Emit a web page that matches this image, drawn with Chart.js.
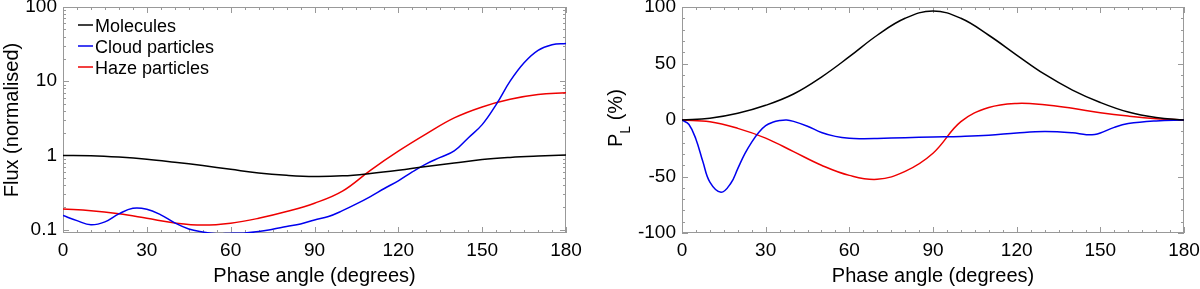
<!DOCTYPE html>
<html>
<head>
<meta charset="utf-8">
<script src="https://cdn.jsdelivr.net/npm/chart.js@4"></script>
<style>
html, body { margin: 0; padding: 0; background: #fff; }
#contenedor { display: flex; width: 1200px; height: 289px; }
canvas { display: block; }
</style>
</head>
<body>
<div id="contenedor">
  <canvas id="graficoFlujo" width="600" height="289"></canvas>
  <canvas id="graficoPolarizacion" width="600" height="289"></canvas>
</div>
<script>
// Datos
const angulos10 = [0, 10, 20, 30, 40, 50, 60, 70, 80, 90, 100, 110, 120, 130, 140, 150, 160, 170, 180];
const angulos5 = [0, 5, 10, 15, 20, 25, 30, 35, 40, 45, 50, 55, 60, 65, 70, 75, 80, 85, 90,
                  95, 100, 105, 110, 115, 120, 125, 130, 135, 140, 145, 150, 155, 160, 165, 170, 175, 180];

// Flujo (normalizado)
const flujoMoleculas = [1.0, 0.99, 0.95, 0.89, 0.81, 0.73, 0.65, 0.58, 0.54, 0.52, 0.53, 0.57, 0.63, 0.71, 0.79, 0.88, 0.94, 0.98, 1.01];
const flujoNubes = [0.155, 0.132, 0.116, 0.127, 0.163, 0.194, 0.188, 0.158, 0.123, 0.102, 0.093, 0.088, 0.089, 0.09, 0.094, 0.101,
                    0.11, 0.119, 0.135, 0.15, 0.18, 0.222, 0.279, 0.358, 0.455, 0.6, 0.77, 0.94, 1.15, 1.72, 2.6, 4.84,
                    10, 17.7, 26, 31, 32.3];
const flujoBruma = [0.19, 0.18, 0.163, 0.142, 0.123, 0.115, 0.122, 0.142, 0.175, 0.227, 0.33, 0.63, 1.14, 1.95, 3.2, 4.5, 5.7, 6.6, 7.0];

// Polarizacion lineal (%)
const polMoleculas = [0, 1.5, 5.9, 13, 23, 38, 56, 75, 90, 96.5, 90, 75, 57.5, 40.5, 26.5, 15.5, 7, 2.2, 0];
const polBruma = [0, -1.5, -7.4, -16, -28, -40, -49, -52.5, -45.5, -29.4, -1.5, 11, 14.7, 13.5, 10.3, 6.5, 3.5, 1.2, 0];
const angulosPolNubes = [0, 2.5, 5, 7.5, 10, 14, 17.5, 20, 22.5, 25, 27.5, 30, 32.5, 35, 37.5, 40, 45, 50,
                         55, 60, 65, 70, 80, 90, 100, 110, 120, 130, 140, 145, 148, 150, 155, 160, 170, 180];
const polNubes = [0, -4, -17, -37, -55, -64, -56, -43, -30, -19.5, -11, -5, -2, -0.5, 0, -1.2, -5.5, -11,
                  -14.5, -16.2, -16.5, -16.3, -15.6, -15, -14.5, -13.5, -11.5, -10.2, -11.3, -13, -12.8, -11.5, -6.5, -3.2, -0.8, 0];

const etiquetas = ['Molecules', 'Cloud particles', 'Haze particles'];
const colores = ['#000000', '#0000ee', '#ee0000'];

const ticksFlujo = [0.1, 1, 10, 100];
const textosTicksFlujo = ['0.1', '1', '10', '100'];

Chart.defaults.font.family = "'Liberation Sans', Arial, sans-serif";
Chart.defaults.color = '#000';

function puntos(xs, ys) {
    return xs.map((x, i) => ({x: x, y: ys[i]}));
}

function serie(etiqueta, color, datos) {
    return {
        label: etiqueta,
        data: datos,
        borderColor: color,
        backgroundColor: color,
        borderWidth: 1.5,
        pointRadius: 0,
        tension: 0.4,
        fill: false
    };
}

// marco gris con marcas hacia adentro
const marcoEjes = {
    id: 'marcoEjes',
    beforeDatasetsDraw(chart, args, opts) {
        const {ctx, chartArea: a, scales: {x, y}} = chart;
        ctx.save();
        ctx.strokeStyle = '#999';
        ctx.lineWidth = 1;
        ctx.strokeRect(a.left + 0.5, a.top + 0.5, a.right - a.left - 1, a.bottom - a.top - 1);
        ctx.beginPath();
        for (let v = 0; v <= 180; v += 5) {
            const px = Math.round(x.getPixelForValue(v)) + 0.5;
            const largo = v % 30 === 0 ? 6 : 3;
            ctx.moveTo(px, a.bottom); ctx.lineTo(px, a.bottom - largo);
            ctx.moveTo(px, a.top); ctx.lineTo(px, a.top + largo);
        }
        opts.marcasY.forEach(([v, mayor]) => {
            const py = Math.round(y.getPixelForValue(v)) + 0.5;
            const largo = mayor ? 6 : 3;
            ctx.moveTo(a.left, py); ctx.lineTo(a.left + largo, py);
            ctx.moveTo(a.right, py); ctx.lineTo(a.right - largo, py);
        });
        ctx.stroke();
        ctx.restore();
    }
};

// leyenda dentro del area del grafico
const leyendaInterna = {
    id: 'leyendaInterna',
    afterDraw(chart, args, opts) {
        if (!opts.mostrar) return;
        const ctx = chart.ctx;
        const a = chart.chartArea;
        ctx.save();
        ctx.font = "18px 'Liberation Sans', Arial, sans-serif";
        ctx.fillStyle = '#000';
        ctx.textBaseline = 'alphabetic';
        chart.data.datasets.forEach((ds, i) => {
            const yy = a.top + 18 + i * 21;
            ctx.strokeStyle = ds.borderColor;
            ctx.lineWidth = 1.5;
            ctx.beginPath();
            ctx.moveTo(a.left + 15, yy);
            ctx.lineTo(a.left + 30, yy);
            ctx.stroke();
            ctx.fillText(ds.label, a.left + 32, yy + 6.5);
        });
        ctx.restore();
    }
};

// titulo del eje y con subindice
const tituloPL = {
    id: 'tituloPL',
    afterDraw(chart, args, opts) {
        if (!opts.mostrar) return;
        const ctx = chart.ctx;
        ctx.save();
        ctx.translate(22, 147);
        ctx.rotate(-Math.PI / 2);
        ctx.fillStyle = '#000';
        ctx.textBaseline = 'alphabetic';
        ctx.font = "20px 'Liberation Sans', Arial, sans-serif";
        ctx.fillText('P', 0, 0);
        let avance = ctx.measureText('P').width;
        ctx.font = "14px 'Liberation Sans', Arial, sans-serif";
        ctx.fillText('L', avance, 8);
        avance += ctx.measureText('L').width;
        ctx.font = "20px 'Liberation Sans', Arial, sans-serif";
        ctx.fillText(' (%)', avance, 0);
        ctx.restore();
    }
};

function ejeX() {
    return {
        type: 'linear',
        min: 0,
        max: 180,
        ticks: {stepSize: 30, font: {size: 19}, color: '#000', padding: 6, maxRotation: 0},
        grid: {display: false, drawTicks: false, tickLength: 0},
        border: {display: false},
        title: {display: true, text: 'Phase angle (degrees)', font: {size: 20}, color: '#000', padding: {top: 0, bottom: 1}},
        afterFit(scale) {
            scale.height = 56;
            scale.paddingLeft = 0;
            scale.paddingRight = 0;
        }
    };
}

// Grafico de flujo
const marcasFlujo = [];
[0.01, 0.1, 1, 10].forEach(dec => {
    for (let k = 1; k <= 9; k++) {
        const v = dec * k;
        if (v >= 0.0999 && v <= 100) marcasFlujo.push([v, k === 1]);
    }
});
marcasFlujo.push([100, true]);

new Chart(document.getElementById('graficoFlujo'), {
    type: 'line',
    data: {
        datasets: [
            serie(etiquetas[0], colores[0], puntos(angulos10, flujoMoleculas)),
            serie(etiquetas[1], colores[1], puntos(angulos5, flujoNubes)),
            serie(etiquetas[2], colores[2], puntos(angulos10, flujoBruma))
        ]
    },
    options: {
        responsive: false,
        animation: false,
        layout: {padding: {top: 7, right: 34, left: 0, bottom: 0}},
        plugins: {
            legend: {display: false},
            tooltip: {enabled: false},
            marcoEjes: {marcasY: marcasFlujo},
            leyendaInterna: {mostrar: true},
            tituloPL: {mostrar: false}
        },
        scales: {
            x: ejeX(),
            y: {
                type: 'logarithmic',
                min: 0.09,
                max: 100,
                afterBuildTicks(scale) {
                    scale.ticks = ticksFlujo.map(v => ({value: v}));
                },
                ticks: {
                    font: {size: 19},
                    color: '#000',
                    padding: 6,
                    callback: (v) => textosTicksFlujo[ticksFlujo.indexOf(v)]
                },
                grid: {display: false, drawTicks: false, tickLength: 0},
                border: {display: false},
                title: {display: true, text: 'Flux (normalised)', font: {size: 20}, color: '#000', padding: {top: 0, bottom: 0}},
                afterFit(scale) {
                    scale.width = 63;
                    scale.paddingTop = 0;
                    scale.paddingBottom = 0;
                }
            }
        }
    },
    plugins: [marcoEjes, leyendaInterna, tituloPL]
});

// Grafico de polarizacion
const marcasPol = [];
for (let v = -100; v <= 100; v += 10) marcasPol.push([v, v % 50 === 0]);

new Chart(document.getElementById('graficoPolarizacion'), {
    type: 'line',
    data: {
        datasets: [
            serie(etiquetas[0], colores[0], puntos(angulos10, polMoleculas)),
            serie(etiquetas[1], colores[1], puntos(angulosPolNubes, polNubes)),
            serie(etiquetas[2], colores[2], puntos(angulos10, polBruma))
        ]
    },
    options: {
        responsive: false,
        animation: false,
        layout: {padding: {top: 7, right: 16, left: 0, bottom: 0}},
        plugins: {
            legend: {display: false},
            tooltip: {enabled: false},
            marcoEjes: {marcasY: marcasPol},
            leyendaInterna: {mostrar: false},
            tituloPL: {mostrar: true}
        },
        scales: {
            x: ejeX(),
            y: {
                type: 'linear',
                min: -100,
                max: 100,
                ticks: {stepSize: 50, font: {size: 19}, color: '#000', padding: 6},
                grid: {display: false, drawTicks: false, tickLength: 0},
                border: {display: false},
                title: {display: false},
                afterFit(scale) {
                    scale.width = 82;
                    scale.paddingTop = 0;
                    scale.paddingBottom = 0;
                }
            }
        }
    },
    plugins: [marcoEjes, leyendaInterna, tituloPL]
});
</script>
</body>
</html>
